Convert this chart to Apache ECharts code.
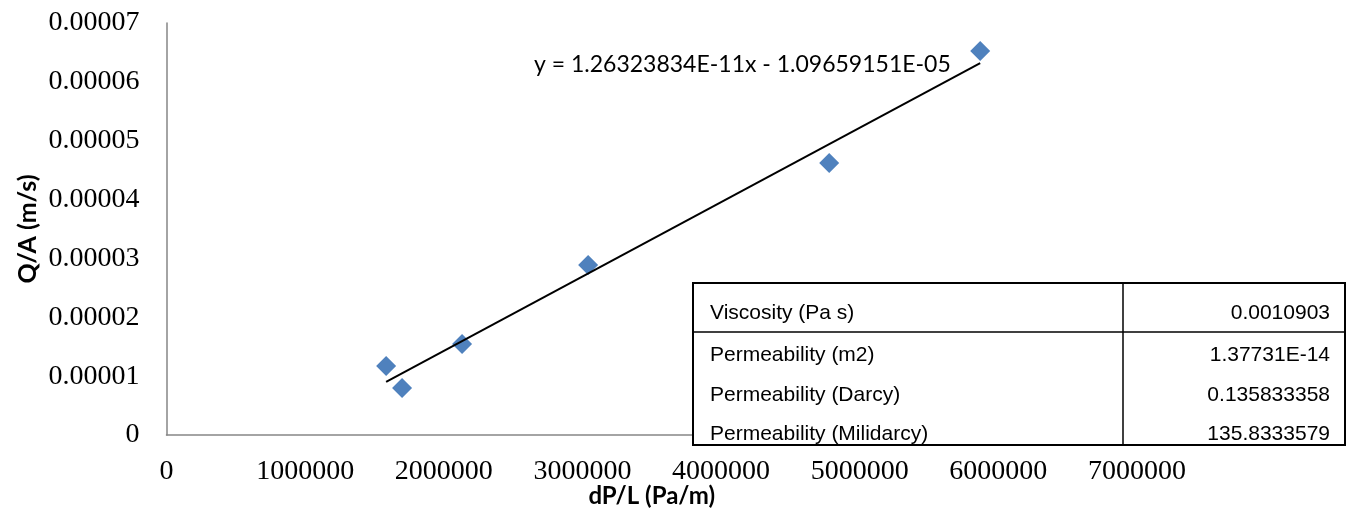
<!DOCTYPE html>
<html>
<head>
<meta charset="utf-8">
<title>Permeability fit</title>
<script src="https://cdn.jsdelivr.net/npm/echarts@6/dist/echarts.min.js"></script>
<style>
  html, body { margin: 0; padding: 0; background: #ffffff; }
  #chart { width: 1353px; height: 509px; }
</style>
</head>
<body>
<div id="chart"></div>
<script>
// Measured flux vs. pressure gradient
const pressureGradient = [1584000, 1699000, 2132000, 3041000, 4780000, 5869000]; // dP/L (Pa/m)
const flux = [0.00001172, 0.00000799, 0.00001546, 0.00002888, 0.00004621, 0.00006524]; // Q/A (m/s)

// Linear fit reported for the data
const fitSlope = 1.26323834e-11;
const fitIntercept = -1.09659151e-05;
const fitLabel = 'y = 1.26323834E-11x - 1.09659151E-05';

// Axis ticks
const xTicks = ['0', '1000000', '2000000', '3000000', '4000000', '5000000', '6000000', '7000000'];
const yTicks = ['0', '0.00001', '0.00002', '0.00003', '0.00004', '0.00005', '0.00006', '0.00007'];

// Results table
const tableNames = ['Viscosity (Pa s)', 'Permeability (m2)', 'Permeability (Darcy)', 'Permeability (Milidarcy)'];
const tableValues = ['0.0010903', '1.37731E-14', '0.135833358', '135.8333579'];

const xMin = Math.min.apply(null, pressureGradient);
const xMax = Math.max.apply(null, pressureGradient);
const fitLine = [xMin, xMax].map(x => [x, fitSlope * x + fitIntercept]);

const chart = echarts.init(document.getElementById('chart'), null, { renderer: 'canvas' });

const serif = '"Liberation Serif", "Times New Roman", serif';
const sans = 'Lato, "Open Sans", sans-serif';
const arial = '"Liberation Sans", Arial, sans-serif';

// Table geometry
const T = { left: 693, top: 283, right: 1345, bottom: 445, split: 1123, headerLine: 332 };
const rowCenters = [313, 355, 395, 434];

const tableChildren = [
  { type: 'rect', z: 100, shape: { x: T.left, y: T.top, width: T.right - T.left, height: T.bottom - T.top },
    style: { fill: '#ffffff', stroke: '#000000', lineWidth: 2 } },
  { type: 'line', z: 101, shape: { x1: T.split, y1: T.top, x2: T.split, y2: T.bottom },
    style: { stroke: '#000000', lineWidth: 1.5 } },
  { type: 'line', z: 101, shape: { x1: T.left, y1: T.headerLine, x2: T.right, y2: T.headerLine },
    style: { stroke: '#000000', lineWidth: 1.5 } }
];
tableNames.forEach((name, i) => {
  tableChildren.push({ type: 'text', z: 102, x: 710, y: rowCenters[i],
    style: { text: name, font: '21px ' + arial, fill: '#000000', textAlign: 'left', textVerticalAlign: 'middle' } });
  tableChildren.push({ type: 'text', z: 102, x: 1330, y: rowCenters[i],
    style: { text: tableValues[i], font: '21px ' + arial, fill: '#000000', textAlign: 'right', textVerticalAlign: 'middle' } });
});

const option = {
  backgroundColor: '#ffffff',
  animation: false,
  grid: { left: 166.5, right: 216, top: 23, bottom: 74, outerBoundsMode: 'none', containLabel: false },
  xAxis: {
    type: 'value', min: 0, max: 7000000, interval: 1000000,
    name: 'dP/L (Pa/m)', nameLocation: 'middle', nameGap: 61, nameMoveOverlap: false,
    nameTextStyle: { fontFamily: sans, fontWeight: 'bold', fontSize: 24, color: '#000000',
      verticalAlign: 'middle' },
    axisLine: { show: true, lineStyle: { color: '#868686', width: 1.5 } },
    axisTick: { show: false },
    splitLine: { show: false },
    axisLabel: { margin: 23, fontFamily: serif, fontSize: 28, color: '#000000',
      formatter: (v) => xTicks[Math.round(v / 1000000)] }
  },
  yAxis: {
    type: 'value', min: 0, max: 0.00007, interval: 0.00001,
    name: 'Q/A (m/s)', nameLocation: 'middle', nameGap: 126, nameRotate: 90, nameMoveOverlap: false,
    nameTextStyle: { fontFamily: sans, fontWeight: 'bold', fontSize: 25, color: '#000000' },
    axisLine: { show: true, lineStyle: { color: '#868686', width: 1.5 } },
    axisTick: { show: false },
    splitLine: { show: false },
    axisLabel: { margin: 27, fontFamily: serif, fontSize: 28, color: '#000000',
      formatter: (v) => yTicks[Math.round(v / 0.00001)] }
  },
  series: [
    {
      type: 'scatter', name: 'data',
      data: pressureGradient.map((x, i) => [x, flux[i]]),
      symbol: 'diamond', symbolSize: 20,
      itemStyle: { color: '#4F81BD', opacity: 1 },
      z: 2
    },
    {
      type: 'line', name: 'fit',
      data: fitLine,
      symbol: 'none',
      lineStyle: { color: '#000000', width: 2 },
      z: 3
    }
  ],
  graphic: [
    { type: 'text', left: 534, top: 53, z: 50,
      style: { text: fitLabel, font: '23px ' + sans, fill: '#000000' } },
    { type: 'group', z: 100, children: tableChildren }
  ]
};

chart.setOption(option);
</script>
</body>
</html>
